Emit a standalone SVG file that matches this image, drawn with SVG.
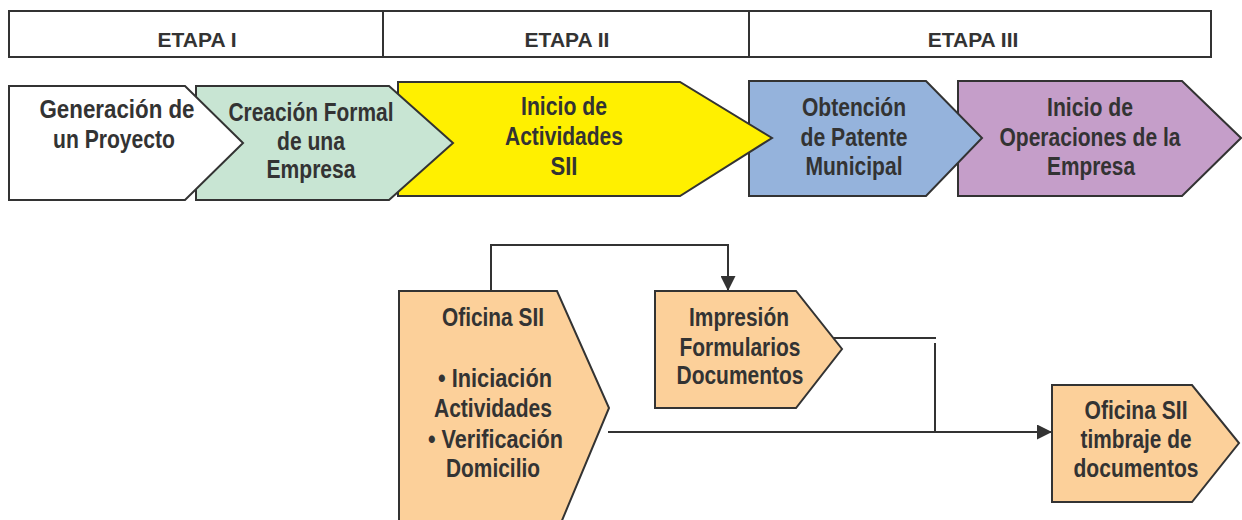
<svg xmlns="http://www.w3.org/2000/svg" width="1242" height="520" viewBox="0 0 1242 520">
<defs>
<style>
.sh{stroke:#333;stroke-width:2;stroke-linejoin:miter}
.t{font-family:"Liberation Sans",Arial,sans-serif;font-weight:bold;fill:#333;text-anchor:middle;font-size:25px}
.h{font-size:21px}
.c{fill:none;stroke:#333;stroke-width:2}
</style>
<marker id="arr" markerUnits="userSpaceOnUse" markerWidth="15" markerHeight="15" refX="15" refY="7.5" orient="auto">
<path d="M0,0 L15,7.5 L0,15 z" fill="#333"/>
</marker>
</defs>
<rect width="1242" height="520" fill="#fff"/>
<g id="header">
<rect class="sh" x="9" y="11" width="1202" height="46" fill="#fff"/>
<line class="sh" x1="383" y1="11" x2="383" y2="57"/>
<line class="sh" x1="749" y1="11" x2="749" y2="57"/>
<text class="t h" x="197" y="47">ETAPA I</text>
<text class="t h" x="567" y="47">ETAPA II</text>
<text class="t h" x="973" y="47">ETAPA III</text>
</g>
<g id="inicio-operaciones">
<polygon class="sh" fill="#C59EC9" points="958,81 1182,81 1241,138 1182,196 958,196"/>
<text class="t" x="1090" y="116" textLength="86" lengthAdjust="spacingAndGlyphs">Inicio de</text>
<text class="t" x="1090" y="146" textLength="181" lengthAdjust="spacingAndGlyphs">Operaciones de la</text>
<text class="t" x="1091" y="175" textLength="88" lengthAdjust="spacingAndGlyphs">Empresa</text>
</g>
<g id="patente">
<polygon class="sh" fill="#95B3DC" points="749,81 926,81 982,138 926,196 749,196"/>
<text class="t" x="854" y="116" textLength="104" lengthAdjust="spacingAndGlyphs">Obtención</text>
<text class="t" x="854" y="146" textLength="107" lengthAdjust="spacingAndGlyphs">de Patente</text>
<text class="t" x="854" y="175" textLength="97" lengthAdjust="spacingAndGlyphs">Municipal</text>
</g>
<g id="inicio-actividades">
<polygon class="sh" fill="#FFF000" points="398,82 680,82 772,138 680,196 398,196"/>
<text class="t" x="564" y="115" textLength="86" lengthAdjust="spacingAndGlyphs">Inicio de</text>
<text class="t" x="564" y="145" textLength="118" lengthAdjust="spacingAndGlyphs">Actividades</text>
<text class="t" x="564" y="175" textLength="27" lengthAdjust="spacingAndGlyphs">SII</text>
</g>
<g id="creacion">
<polygon class="sh" fill="#C8E5D3" points="196,86 389,86 453,143 389,200 196,200"/>
<text class="t" x="311" y="121" textLength="165" lengthAdjust="spacingAndGlyphs">Creación Formal</text>
<text class="t" x="311" y="150" textLength="68" lengthAdjust="spacingAndGlyphs">de una</text>
<text class="t" x="311" y="178" textLength="89" lengthAdjust="spacingAndGlyphs">Empresa</text>
</g>
<g id="generacion">
<polygon class="sh" fill="#fff" points="9,86 185,86 243,143 185,200 9,200"/>
<text class="t" x="117" y="118" textLength="155" lengthAdjust="spacingAndGlyphs">Generación de</text>
<text class="t" x="114" y="148" textLength="122" lengthAdjust="spacingAndGlyphs">un Proyecto</text>
</g>
<g id="connectors">
<path class="c" d="M491,291 V245 H728 V291" marker-end="url(#arr)"/>
<path class="c" d="M818,338 H936"/>
<path class="c" d="M935,343 V432"/>
<path class="c" d="M608,432 H1052" marker-end="url(#arr)"/>
</g>
<g id="oficina-sii">
<polygon class="sh" fill="#FCD09A" points="399,291 557,291 609,408 558,530 399,530"/>
<text class="t" x="493" y="326" textLength="102" lengthAdjust="spacingAndGlyphs">Oficina SII</text>
<text class="t" x="495" y="387" textLength="114" lengthAdjust="spacingAndGlyphs">• Iniciación</text>
<text class="t" x="493" y="417" textLength="118" lengthAdjust="spacingAndGlyphs">Actividades</text>
<text class="t" x="495.5" y="448" textLength="135" lengthAdjust="spacingAndGlyphs">• Verificación</text>
<text class="t" x="493" y="477" textLength="94" lengthAdjust="spacingAndGlyphs">Domicilio</text>
</g>
<g id="impresion">
<polygon class="sh" fill="#FCD09A" points="655,291 796,291 842,349 796,408 655,408"/>
<text class="t" x="739" y="326" textLength="100" lengthAdjust="spacingAndGlyphs">Impresión</text>
<text class="t" x="740" y="356" textLength="121" lengthAdjust="spacingAndGlyphs">Formularios</text>
<text class="t" x="740" y="384" textLength="127" lengthAdjust="spacingAndGlyphs">Documentos</text>
</g>
<g id="timbraje">
<polygon class="sh" fill="#FCD09A" points="1052,385 1192,385 1239,443 1192,502 1052,502"/>
<text class="t" x="1136" y="419" textLength="103" lengthAdjust="spacingAndGlyphs">Oficina SII</text>
<text class="t" x="1136" y="448" textLength="111" lengthAdjust="spacingAndGlyphs">timbraje de</text>
<text class="t" x="1136" y="477" textLength="125" lengthAdjust="spacingAndGlyphs">documentos</text>
</g>
</svg>
